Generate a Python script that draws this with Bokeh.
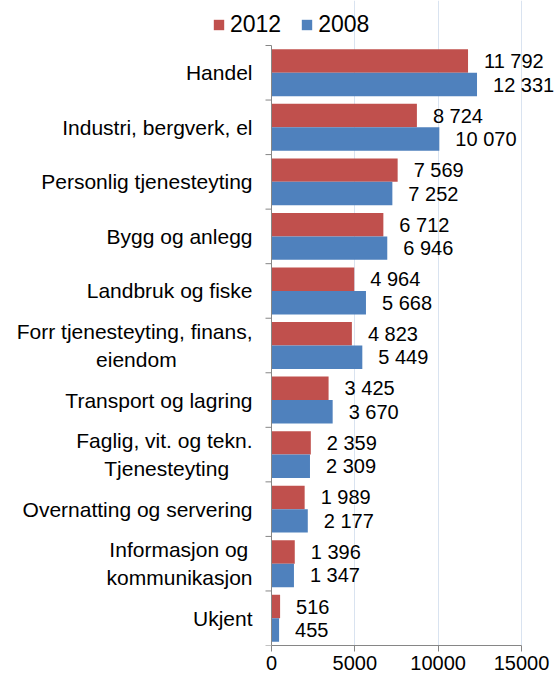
from bokeh.plotting import figure
from bokeh.models import (ColumnDataSource, FixedTicker, LabelSet, Legend, LegendItem)
from bokeh.core.properties import value
from bokeh.embed import file_html
from bokeh.resources import INLINE

NB = "\u00a0"
categories = ["Handel", "Industri, bergverk, el", "Personlig tjenesteyting",
              "Bygg og anlegg", "Landbruk og fiske",
              "Forr tjenesteyting, finans,\neiendom" + NB * 13,
              "Transport og lagring",
              "Faglig, vit. og tekn.\nTjenesteyting" + NB * 4,
              "Overnatting og servering",
              "Informasjon og\u2009\nkommunikasjon", "Ukjent"]
v2012 = [11792, 8724, 7569, 6712, 4964, 4823, 3425, 2359, 1989, 1396, 516]
v2008 = [12331, 10070, 7252, 6946, 5668, 5449, 3670, 2309, 2177, 1347, 455]
series = ["2012", "2008"]
x_ticks = [0, 5000, 10000, 15000]
x_max = 15000

RED = "#C0504D"
BLUE = "#4F81BD"
AXIS = "#868686"
FONT = "Liberation Sans"

# geometry (pixels)
W, H = 556, 677
PLOT_L, PLOT_W = 271, 250      # left edge / width of the value area
TOP, PLOT_H, BOTTOM = 45, 600, 32

n = len(categories)
ypos = [n - 1 - i for i in range(n)]
fmt = lambda v: f"{v:,}".replace(",", " ")
upp = x_max / PLOT_W                       # data units per pixel (x)
cat_per_px = n / PLOT_H                    # data units per pixel (y)

src12 = ColumnDataSource(dict(y=[y + 0.215 for y in ypos], v=v2012,
                              lab=[fmt(v) for v in v2012]))
src08 = ColumnDataSource(dict(y=[y - 0.215 for y in ypos], v=v2008,
                              lab=[fmt(v) for v in v2008]))
srccat = ColumnDataSource(dict(y=ypos, cat=categories))
bounds = [y + 0.5 for y in range(-1, n)]
srctick = ColumnDataSource(dict(y=bounds))

# The frame covers the whole canvas (so nothing gets clipped); the
# category axis is drawn by hand at x = 0.
p = figure(width=W, height=H, output_backend="svg", toolbar_location=None,
           x_range=(-PLOT_L * upp, (W - PLOT_L) * upp),
           y_range=(-0.5, n - 0.5 + TOP * cat_per_px),
           min_border_left=0, min_border_right=0, min_border_top=0,
           min_border_bottom=BOTTOM)
p.outline_line_color = None
p.background_fill_color = "white"
p.yaxis.visible = False
p.ygrid.grid_line_color = None

p.xgrid.ticker = FixedTicker(ticks=x_ticks[1:])
p.xgrid.grid_line_color = "#D9E3F0"
p.xgrid.bounds = (-0.5, n - 0.5)

r12 = p.hbar(y="y", right="v", left=0, height=0.43, source=src12,
             fill_color=RED, line_color=None)
r08 = p.hbar(y="y", right="v", left=0, height=0.43, source=src08,
             fill_color=BLUE, line_color=None)

# category axis line, boundary ticks and labels
p.segment(x0=0, y0=-0.5, x1=0, y1=n - 0.5, line_color=AXIS, line_width=1)
p.segment(x0=0, x1=-6 * upp, y0="y", y1="y", source=srctick,
          line_color=AXIS, line_width=1)
p.text(x=0, y="y", text="cat", source=srccat, x_offset=-19,
       text_align="right", text_baseline="middle",
       text_font=value(FONT), text_font_size="21px", text_color="black")

for src in (src12, src08):
    p.add_layout(LabelSet(x="v", y="y", text="lab", source=src, x_offset=16,
                          text_baseline="middle", text_align="left",
                          text_font=value(FONT), text_font_size="20px",
                          text_color="black"))

p.xaxis.bounds = (0, x_max)
p.xaxis.ticker = FixedTicker(ticks=x_ticks)
p.xaxis.axis_line_color = AXIS
p.xaxis.major_tick_line_color = AXIS
p.xaxis.major_tick_out = 6
p.xaxis.major_tick_in = 0
p.xaxis.minor_tick_line_color = None
p.xaxis.major_label_text_font = FONT
p.xaxis.major_label_text_font_size = "20px"
p.xaxis.major_label_text_color = "black"
p.xaxis.major_label_standoff = 4

legend = Legend(items=[LegendItem(label=series[0], renderers=[r12]),
                       LegendItem(label=series[1], renderers=[r08])],
                orientation="horizontal", location=(212, H - BOTTOM - 38),
                border_line_color=None, background_fill_alpha=0,
                padding=0, margin=0, spacing=19, label_standoff=5,
                glyph_width=13, glyph_height=13,
                label_text_font=FONT, label_text_font_size="23px",
                label_text_color="black", label_height=24)
p.add_layout(legend, "center")

open("out.html", "w").write(file_html(p, INLINE))
